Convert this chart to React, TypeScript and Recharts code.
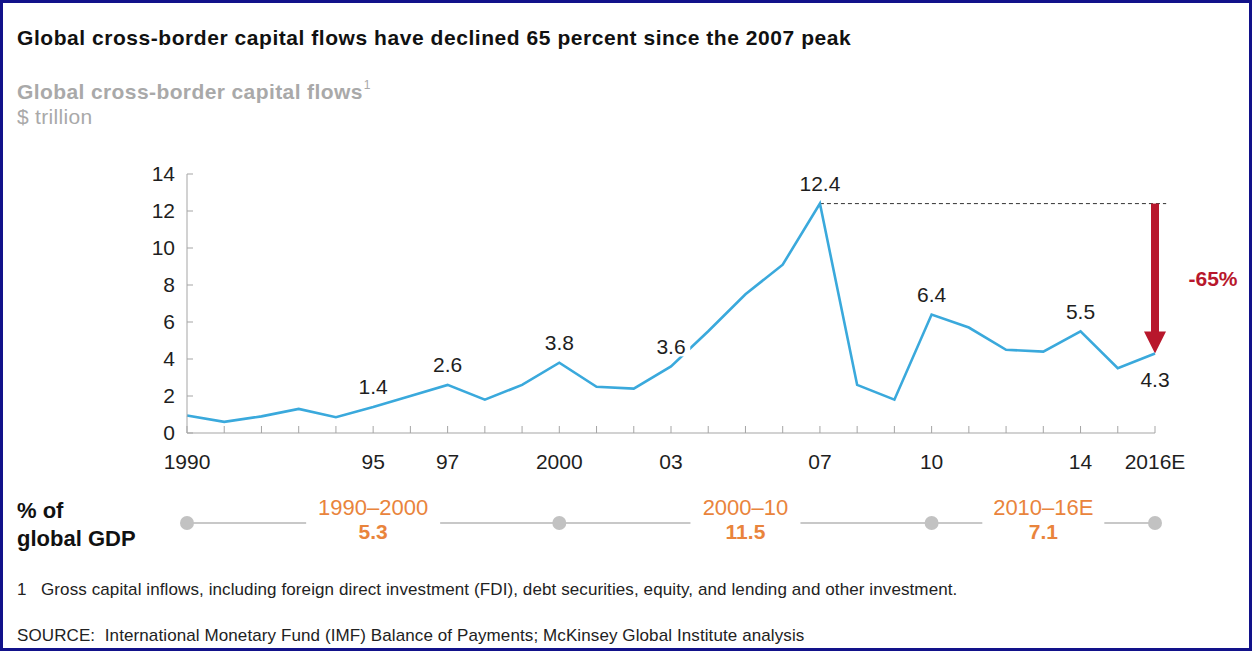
import React from 'react';
import { LineChart, Line, XAxis, YAxis, ReferenceLine, LabelList } from 'recharts';

const years = [
  1990, 1991, 1992, 1993, 1994, 1995, 1996, 1997, 1998, 1999, 2000, 2001, 2002, 2003,
  2004, 2005, 2006, 2007, 2008, 2009, 2010, 2011, 2012, 2013, 2014, 2015, 2016,
];
const flows = [
  0.95, 0.6, 0.9, 1.3, 0.85, 1.4, 2.0, 2.6, 1.8, 2.6, 3.8, 2.5, 2.4, 3.6,
  5.5, 7.5, 9.1, 12.4, 2.6, 1.8, 6.4, 5.7, 4.5, 4.4, 5.5, 3.5, 4.3,
];

const tickYears = [1990, 1995, 1997, 2000, 2003, 2007, 2010, 2014, 2016];
const tickLabels = ['1990', '95', '97', '2000', '03', '07', '10', '14', '2016E'];
const yTicks = [0, 2, 4, 6, 8, 10, 12, 14];

const labeledYears = [1995, 1997, 2000, 2003, 2007, 2010, 2014, 2016];
const belowLabelYears = [2016];

const peakYear = 2007;
const peakValue = 12.4;
const lastYear = 2016;
const lastValue = 4.3;
const declineLabel = '-65%';

const gdpBounds = [1990, 2000, 2010, 2016];
const gdpPeriods = ['1990–2000', '2000–10', '2010–16E'];
const gdpShares = [5.3, 11.5, 7.1];

const FONT = '"Liberation Sans", Arial, Helvetica, sans-serif';
const BLUE = '#3aa9dc';
const AXIS = '#a5a5a5';
const RED = '#b8172c';
const ORANGE = '#e9843c';
const INK = '#1e1e1e';

const data = years.map((year, i) => ({ year, flow: flows[i] }));
const gdpLine = gdpBounds.map((year) => ({ year, v: 0.5 }));
const gdpMid = gdpPeriods.map((p, i) => ({
  year: (gdpBounds[i] + gdpBounds[i + 1]) / 2,
  v: 0.5,
  period: p,
  share: gdpShares[i],
}));

const XTick = (props: any) => {
  const { x, y, payload } = props;
  const idx = tickYears.indexOf(payload.value);
  return (
    <g>
      <line x1={x} x2={x} y1={y - 7} y2={y} stroke={AXIS} strokeWidth={1} />
      {idx >= 0 && (
        <text x={x} y={y + 36} textAnchor="middle" fontSize={21} fill={INK} fontFamily={FONT}>
          {tickLabels[idx]}
        </text>
      )}
    </g>
  );
};

const YTick = (props: any) => {
  const { x, y, payload } = props;
  return (
    <g>
      <line x1={x} x2={x + 6} y1={y} y2={y} stroke={AXIS} strokeWidth={1} />
      <text x={x - 12} y={y} dy="0.35em" textAnchor="end" fontSize={21} fill={INK} fontFamily={FONT}>
        {payload.value}
      </text>
    </g>
  );
};

const ValueLabel = (props: any) => {
  const { x, y, index } = props;
  const year = years[index];
  if (!labeledYears.includes(year)) return null;
  const txt = flows[index].toFixed(1);
  const cy = belowLabelYears.includes(year) ? y + 26 : y - 20;
  const w = txt.length * 11.5 + 4;
  return (
    <g>
      <rect x={x - w / 2} y={cy - 10} width={w} height={20} fill="#fff" />
      <text x={x} y={cy} dy="0.35em" textAnchor="middle" fontSize={21} fill={INK} fontFamily={FONT}>
        {txt}
      </text>
    </g>
  );
};

const DeclineArrow = (props: any) => {
  const { x1, y1, y2 } = props;
  const head = 22;
  return (
    <g>
      <rect x={x1 - 4} y={y1} width={8} height={y2 - y1 - head + 1} fill={RED} />
      <polygon points={`${x1 - 11},${y2 - head} ${x1 + 11},${y2 - head} ${x1},${y2}`} fill={RED} />
      <text x={x1 + 58} y={(y1 + y2) / 2} dy="0.35em" textAnchor="middle" fontSize={21} fontWeight="bold" fill={RED} fontFamily={FONT}>
        {declineLabel}
      </text>
    </g>
  );
};

const PeriodLabel = (props: any) => {
  const { x, y, index } = props;
  const p = gdpMid[index];
  const w = p.period.length * 12 + 26;
  return (
    <g>
      <rect x={x - w / 2} y={y - 6} width={w} height={12} fill="#fff" />
      <text x={x} y={y - 16} dy="0.35em" textAnchor="middle" fontSize={22} fill={ORANGE} fontFamily={FONT}>
        {p.period}
      </text>
      <text x={x} y={y + 9} dy="0.35em" textAnchor="middle" fontSize={21} fontWeight="bold" fill={ORANGE} fontFamily={FONT}>
        {p.share.toFixed(1)}
      </text>
    </g>
  );
};

const txt = (top: number, size: number, extra: React.CSSProperties = {}): React.CSSProperties => ({
  position: 'absolute',
  left: 17,
  top,
  fontSize: size,
  lineHeight: 1,
  whiteSpace: 'nowrap',
  fontFamily: FONT,
  ...extra,
});

export default function App() {
  return (
    <div
      style={{
        position: 'absolute',
        left: 0,
        top: 0,
        width: 1252,
        height: 651,
        background: '#fff',
        border: '3px solid #12128a',
        boxSizing: 'border-box',
        overflow: 'hidden',
      }}
    >
      <div style={{ position: 'absolute', left: -3, top: -3, width: 1252, height: 651 }}>
        <div style={txt(27, 21, { fontWeight: 'bold', color: '#111', letterSpacing: 0.55 })}>
          Global cross-border capital flows have declined 65 percent since the 2007 peak
        </div>
        <div style={txt(81, 21, { fontWeight: 'bold', color: '#a9a9a9', letterSpacing: 0.4 })}>
          Global cross-border capital flows
          <sup style={{ fontSize: 12, fontWeight: 'normal', verticalAlign: 'top', position: 'relative', top: -2, marginLeft: 1 }}>1</sup>
        </div>
        <div style={txt(106, 21, { color: '#a9a9a9', letterSpacing: 0.3 })}>$ trillion</div>

        <div style={{ position: 'absolute', left: 0, top: 0 }}>
          <LineChart width={1252} height={480} data={data} margin={{ top: 174, right: 97, bottom: 0, left: 127 }}>
            <XAxis
              type="number"
              dataKey="year"
              domain={[1990, 2016]}
              ticks={years}
              interval={0}
              height={47}
              tickSize={0}
              tickMargin={0}
              tickLine={false}
              axisLine={{ stroke: AXIS, strokeWidth: 1 }}
              tick={<XTick />}
            />
            <YAxis
              domain={[0, 14]}
              ticks={yTicks}
              width={60}
              tickSize={0}
              tickMargin={0}
              tickLine={false}
              axisLine={{ stroke: AXIS, strokeWidth: 1 }}
              tick={<YTick />}
            />
            <ReferenceLine
              segment={[{ x: peakYear, y: peakValue }, { x: lastYear + 0.3, y: peakValue }]}
              stroke="#333"
              strokeDasharray="4 3"
              strokeWidth={1}
              ifOverflow="visible"
            />
            <ReferenceLine
              segment={[{ x: lastYear, y: peakValue }, { x: lastYear, y: lastValue }]}
              ifOverflow="visible"
              shape={<DeclineArrow />}
            />
            <Line
              type="linear"
              dataKey="flow"
              stroke={BLUE}
              strokeWidth={2.6}
              dot={false}
              isAnimationActive={false}
            >
              <LabelList dataKey="flow" content={<ValueLabel />} />
            </Line>
          </LineChart>
        </div>

        <div style={txt(500, 22, { fontWeight: 'bold', color: '#111' })}>% of</div>
        <div style={txt(528, 22, { fontWeight: 'bold', color: '#111' })}>global GDP</div>

        <div style={{ position: 'absolute', left: 0, top: 490 }}>
          <LineChart width={1252} height={66} margin={{ top: 0, right: 97, bottom: 0, left: 187 }}>
            <XAxis type="number" dataKey="year" domain={[1990, 2016]} hide />
            <YAxis domain={[0, 1]} hide />
            <Line
              data={gdpLine}
              dataKey="v"
              stroke="#c8c8c8"
              strokeWidth={2}
              dot={{ r: 7, fill: '#c2c2c2', stroke: 'none' }}
              isAnimationActive={false}
            />
            <Line
              data={gdpMid}
              dataKey="v"
              stroke="none"
              dot={false}
              isAnimationActive={false}
            >
              <LabelList dataKey="v" content={<PeriodLabel />} />
            </Line>
          </LineChart>
        </div>

        <div style={txt(581, 17, { color: '#222', letterSpacing: 0.1 })}>
          1&nbsp;&nbsp;&nbsp;Gross capital inflows, including foreign direct investment (FDI), debt securities, equity, and lending and other investment.
        </div>
        <div style={txt(627, 17, { color: '#222', letterSpacing: 0.1 })}>
          SOURCE:&nbsp;&nbsp;International Monetary Fund (IMF) Balance of Payments; McKinsey Global Institute analysis
        </div>
      </div>
    </div>
  );
}
